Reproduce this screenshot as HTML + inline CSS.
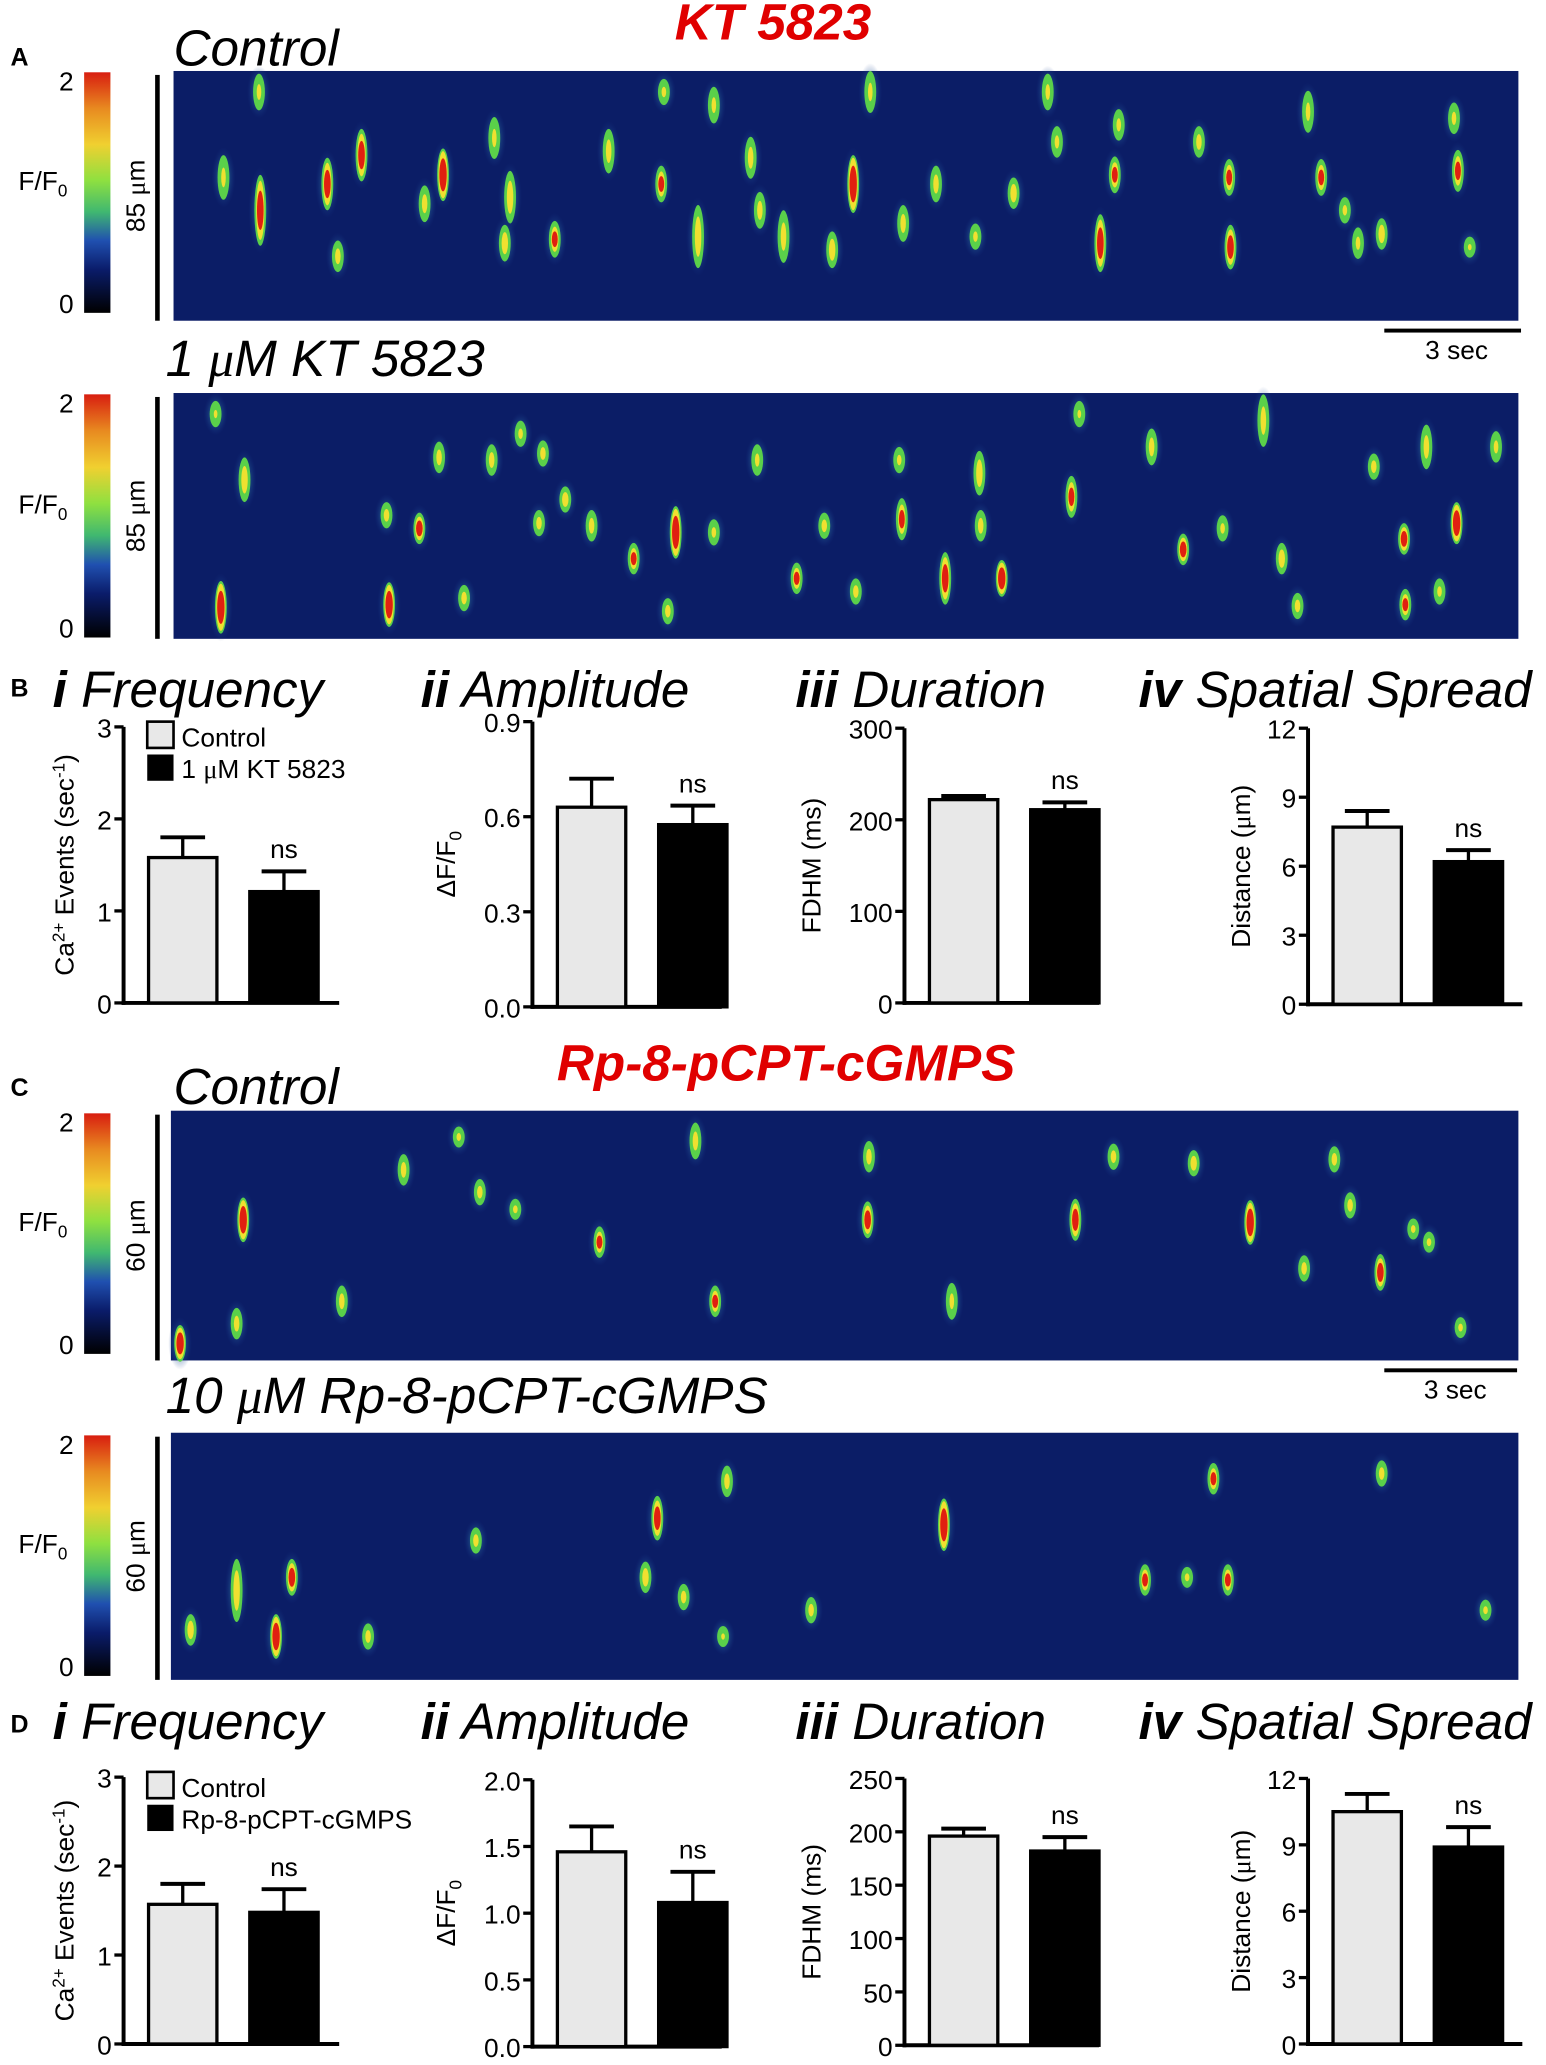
<!DOCTYPE html>
<html><head><meta charset="utf-8">
<style>
html,body{margin:0;padding:0;background:#fff;}
svg{display:block;}
text{font-family:"Liberation Sans Narrow","Liberation Sans",sans-serif;fill:#000;}
.ttl{font-style:italic;font-size:39px;}
.tk{font-size:20px;}
.pl{font-family:"Liberation Sans",sans-serif;font-weight:bold;font-size:19px;}
</style></head>
<body>
<svg id="fig" width="1546" height="2065" viewBox="0 0 1176 1571" preserveAspectRatio="none" xmlns="http://www.w3.org/2000/svg">
<defs>
<linearGradient id="cbar" x1="0" y1="0" x2="0" y2="1">
<stop offset="0" stop-color="#d81e10"/><stop offset="0.15" stop-color="#e88a20"/><stop offset="0.3" stop-color="#f0d030"/>
<stop offset="0.45" stop-color="#8ee040"/><stop offset="0.58" stop-color="#40b870"/><stop offset="0.7" stop-color="#2050b0"/>
<stop offset="0.82" stop-color="#0a1c6a"/><stop offset="1" stop-color="#000"/>
</linearGradient>
<radialGradient id="halo"><stop offset="0" stop-color="#3aa0a0" stop-opacity="0.9"/><stop offset="1" stop-color="#1a3a90" stop-opacity="0"/></radialGradient>
</defs>
<g id="layer"></g>
</svg>
<script>
// ---------- heatmap event data (x, y, half-length, intensity) ----------
const evA1=[[197,70,12,.5],[198,160,25,.9],[170,135,15,.5],[249,140,18,.9],[257,195,10,.6],[275,118,18,.9],[323,155,12,.6],[337,133,18,1],[376,105,14,.5],[388,150,18,.7],[384,185,12,.7],[422,182,12,.8],[463,115,15,.6],[503,140,12,.8],[505,70,8,.5],[543,80,12,.5],[571,120,14,.6],[578,160,12,.6],[531,180,22,.7],[596,180,18,.6],[649,140,20,1],[633,190,12,.7],[662,70,14,.5],[687,170,12,.6],[712,140,12,.6],[742,180,8,.5],[771,147,10,.7],[797,70,12,.5],[804,108,10,.5],[837,185,20,.9],[848,133,12,.8],[851,95,10,.5],[912,108,10,.6],[935,135,12,.8],[936,188,15,.9],[1005,135,12,.8],[995,85,14,.5],[1023,160,8,.5],[1051,178,10,.7],[1033,185,10,.5],[1109,130,14,.8],[1106,90,10,.5],[1118,188,6,.4]];
const evA2=[[186,365,15,.7],[168,462,18,1],[164,315,8,.4],[294,392,8,.6],[319,402,10,.9],[296,460,15,1],[334,348,10,.6],[353,455,8,.6],[374,350,10,.6],[396,330,8,.5],[413,345,8,.6],[430,380,8,.7],[410,398,8,.6],[450,400,10,.6],[482,425,10,.8],[514,405,18,1],[508,465,8,.6],[543,405,8,.5],[576,350,10,.5],[606,440,10,.8],[627,400,8,.6],[651,450,8,.6],[686,395,14,.8],[684,350,8,.5],[719,440,18,.9],[745,360,15,.7],[762,440,12,1],[746,400,10,.6],[815,378,14,.8],[821,315,8,.4],[876,340,12,.6],[900,418,10,.9],[930,402,8,.5],[961,320,18,.6],[975,425,10,.7],[987,461,8,.6],[1045,355,8,.6],[1085,340,15,.6],[1068,410,10,.9],[1069,460,10,.8],[1108,398,14,1],[1138,340,10,.5],[1095,450,8,.5]];
const evC1=[[185,928,15,1],[180,1007,10,.6],[260,990,10,.6],[307,890,10,.6],[365,907,8,.6],[349,865,6,.5],[392,920,6,.5],[456,945,10,.8],[529,868,12,.6],[544,990,10,.8],[661,880,10,.6],[660,928,12,.9],[724,990,12,.5],[818,928,14,.9],[847,880,8,.6],[908,885,8,.7],[951,930,15,1],[1015,882,8,.6],[1027,917,8,.6],[1050,968,12,.9],[992,965,8,.6],[1075,935,6,.5],[1111,1010,6,.5],[1087,945,6,.5],[137,1022,12,1]];
const evC2=[[145,1240,10,.7],[180,1210,22,.7],[210,1245,15,1],[222,1200,12,.9],[280,1245,8,.6],[362,1172,8,.6],[500,1155,15,.9],[491,1200,10,.7],[520,1215,8,.6],[553,1127,10,.6],[617,1225,8,.6],[718,1160,18,1],[871,1202,10,.8],[923,1125,10,.8],[934,1202,10,.8],[1051,1121,8,.6],[903,1200,6,.5],[1130,1225,6,.5],[550,1245,6,.4]];

// ---------- bar chart data ----------
const groups=["Control","Treatment"];
const bFreq=[1.58,1.21], bFreqErr=[1.80,1.43];
const bAmp=[0.63,0.575], bAmpErr=[0.72,0.635];
const bDur=[222,211], bDurErr=[226,219];
const bSpr=[7.7,6.2], bSprErr=[8.4,6.7];
const dFreq=[1.57,1.48], dFreqErr=[1.80,1.74];
const dAmp=[1.46,1.08], dAmpErr=[1.65,1.31];
const dDur=[196,182], dDurErr=[203,195];
const dSpr=[10.5,8.9], dSprErr=[11.3,9.8];
const ticksFreq=[0,1,2,3], ticksAmpB=[0,0.3,0.6,0.9], ticksDurB=[0,100,200,300], ticksSpr=[0,3,6,9,12];
const ticksAmpD=[0,0.5,1.0,1.5,2.0], ticksDurD=[0,50,100,150,200,250];

const NS="http://www.w3.org/2000/svg";
const L=document.getElementById('layer');
function mk(tag,attrs,parent){const e=document.createElementNS(NS,tag);for(const k in attrs)e.setAttribute(k,attrs[k]);(parent||L).appendChild(e);return e;}
function txt(x,y,s,cls,extra,parent){const t=mk('text',Object.assign({x:x,y:y},extra||{}),parent);if(cls)t.setAttribute('class',cls);t.innerHTML=s;return t;}

// panel labels & titles
txt(8,50,'A','pl');txt(8,530,'B','pl');txt(8,834,'C','pl');txt(8,1318,'D','pl');
txt(132,50,'Control','ttl');
let r=txt(588,30,'KT 5823','ttl',{'text-anchor':'middle','font-weight':'bold','font-size':'37'});r.style.fill='#e00000';
txt(126,286,'1 <tspan font-family="Liberation Serif">μ</tspan>M KT 5823','ttl');
txt(132,840,'Control','ttl');
r=txt(598,822,'Rp-8-pCPT-cGMPS','ttl',{'text-anchor':'middle','font-weight':'bold','font-size':'36'});r.style.fill='#e00000';
txt(126,1075,'10 <tspan font-family="Liberation Serif">μ</tspan>M Rp-8-pCPT-cGMPS','ttl');

// heatmaps
function heatmap(name,x0,y0,x1,y1,ev,cb0,cb1,umLabel){
  const g=mk('g',{});
  
  
  mk('rect',{x:x0,y:y0,width:x1-x0,height:y1-y0,fill:'#0b1d66'},g);
  ev.forEach(e=>{
    const [x,y,h,v]=e;
    mk('ellipse',{cx:x,cy:y,rx:9,ry:h+8,fill:'url(#halo)'},g);
    mk('ellipse',{cx:x,cy:y,rx:4.5,ry:h+2,fill:'#5ad04a'},g);
    mk('ellipse',{cx:x,cy:y,rx:3.5*v,ry:(h)*v,fill:'#f0e030'},g);
    if(v>=.75) mk('ellipse',{cx:x,cy:y,rx:2.8*v,ry:h*(v-.3),fill:'#e02010'},g);
  });
  const cb=mk('rect',{x:64,y:cb0,width:20,height:cb1-cb0,fill:'url(#cbar)'});
  
  
  txt(56,cb0+14,'2','tk',{'text-anchor':'end'});
  txt(56,cb1,'0','tk',{'text-anchor':'end'});
  txt(14,(cb0+cb1)/2-2,'F/F<tspan font-size="13" dy="5">0</tspan>','tk');
  mk('rect',{x:118,y:y0+3,width:3.5,height:y1-y0-3,fill:'#000'});
  txt(0,0,umLabel+' <tspan font-family="Liberation Serif">μ</tspan>m','tk',{transform:`translate(110,${(y0+y1)/2}) rotate(-90)`,'text-anchor':'middle'});
}
heatmap('linescan-kt-control',132,54,1155,244,evA1,55,238,'85');
heatmap('linescan-kt-drug',132,299,1155,486,evA2,300,485,'85');
heatmap('linescan-rp-control',130,845,1155,1035,evC1,847,1030,'60');
heatmap('linescan-rp-drug',130,1090,1155,1278,evC2,1092,1275,'60');
mk('rect',{x:1053,y:250,width:104,height:3,fill:'#000'});txt(1108,273,'3 sec','tk',{'text-anchor':'middle'});
mk('rect',{x:1053,y:1041,width:101,height:3,fill:'#000'});txt(1107,1064,'3 sec','tk',{'text-anchor':'middle'});

// bar charts
function chart(o){
  const g=mk('g',{});
  
  
  const max=o.ticks[o.ticks.length-1];
  const ys=v=>o.yb-(v/max)*(o.yb-o.yt);
  txt(o.tx,o.ty,o.title,'ttl',{},g);
  mk('line',{x1:o.ax,y1:o.yt,x2:o.ax,y2:o.yb+1.5,stroke:'#000','stroke-width':3},g);
  mk('line',{x1:o.ax-1.5,y1:o.yb,x2:o.xe,y2:o.yb,stroke:'#000','stroke-width':3},g);
  o.ticks.forEach((t,i)=>{
    const y=ys(t);
    mk('line',{x1:o.ax-7,y1:y,x2:o.ax,y2:y,stroke:'#000','stroke-width':2.5},g);
    txt(o.ax-9,y+8,o.labels?o.labels[i]:String(t),'tk',{'text-anchor':'end'},g);
  });
  const bx=[o.ax+19,o.ax+96], bw=52;
  o.vals.forEach((v,i)=>{
    const cx=bx[i]+bw/2;
    mk('line',{x1:cx,y1:ys(v),x2:cx,y2:ys(o.err[i]),stroke:'#000','stroke-width':2.5},g);
    mk('line',{x1:cx-17,y1:ys(o.err[i]),x2:cx+17,y2:ys(o.err[i]),stroke:'#000','stroke-width':3},g);
    const b=mk('rect',{x:bx[i],y:ys(v),width:bw,height:o.yb-ys(v),fill:i?'#000':'#e8e8e8',stroke:'#000','stroke-width':2.5},g);
    
    
  });
  txt(bx[1]+bw/2,ys(o.err[1])-10,'ns','tk',{'text-anchor':'middle','font-size':'22'},g);
  txt(0,0,o.ylab,'tk',{transform:`translate(${o.lx},${(o.yt+o.yb)/2}) rotate(-90)`,'text-anchor':'middle'},g);
  if(o.legend){
    mk('rect',{x:o.ax+18,y:o.yt-4,width:20,height:20,fill:'#e8e8e8',stroke:'#000','stroke-width':2},g);
    mk('rect',{x:o.ax+18,y:o.yt+21,width:20,height:20,fill:'#000'},g);
    txt(o.ax+44,o.yt+15,'Control','tk',{},g);
    txt(o.ax+44,o.yt+39,o.legend,'tk',{},g);
  }
}
const caLab='Ca<tspan font-size="13" dy="-7">2+</tspan><tspan dy="7"> Events (sec</tspan><tspan font-size="13" dy="-7">-1</tspan><tspan dy="7">)</tspan>';
const dfLab='ΔF/F<tspan font-size="13" dy="5">0</tspan>';
const umLab='Distance (<tspan font-family="Liberation Serif">μ</tspan>m)';
chart({name:'chart-b-frequency',title:'<tspan font-weight="bold">i</tspan> Frequency',tx:40,ty:538,ax:94,yt:553,yb:763,xe:258,ticks:ticksFreq,vals:bFreq,err:bFreqErr,ylab:caLab,lx:56,legend:'1 <tspan font-family="Liberation Serif">μ</tspan>M KT 5823'});
chart({name:'chart-b-amplitude',title:'<tspan font-weight="bold">ii</tspan> Amplitude',tx:320,ty:538,ax:405,yt:549,yb:766,xe:549,ticks:ticksAmpB,labels:['0.0','0.3','0.6','0.9'],vals:bAmp,err:bAmpErr,ylab:dfLab,lx:346});
chart({name:'chart-b-duration',title:'<tspan font-weight="bold">iii</tspan> Duration',tx:605,ty:538,ax:688,yt:554,yb:763,xe:836,ticks:ticksDurB,vals:bDur,err:bDurErr,ylab:'FDHM (ms)',lx:624});
chart({name:'chart-b-spread',title:'<tspan font-weight="bold">iv</tspan> Spatial Spread',tx:866,ty:538,ax:995,yt:554,yb:764,xe:1158,ticks:ticksSpr,vals:bSpr,err:bSprErr,ylab:umLab,lx:951});
chart({name:'chart-d-frequency',title:'<tspan font-weight="bold">i</tspan> Frequency',tx:40,ty:1323,ax:94,yt:1352,yb:1555,xe:258,ticks:ticksFreq,vals:dFreq,err:dFreqErr,ylab:caLab,lx:56,legend:'Rp-8-pCPT-cGMPS'});
chart({name:'chart-d-amplitude',title:'<tspan font-weight="bold">ii</tspan> Amplitude',tx:320,ty:1323,ax:405,yt:1354,yb:1557,xe:549,ticks:ticksAmpD,labels:['0.0','0.5','1.0','1.5','2.0'],vals:dAmp,err:dAmpErr,ylab:dfLab,lx:346});
chart({name:'chart-d-duration',title:'<tspan font-weight="bold">iii</tspan> Duration',tx:605,ty:1323,ax:688,yt:1353,yb:1556,xe:836,ticks:ticksDurD,vals:dDur,err:dDurErr,ylab:'FDHM (ms)',lx:624});
chart({name:'chart-d-spread',title:'<tspan font-weight="bold">iv</tspan> Spatial Spread',tx:866,ty:1323,ax:995,yt:1353,yb:1555,xe:1158,ticks:ticksSpr,vals:dSpr,err:dSprErr,ylab:umLab,lx:951});
</script>
</body></html>
